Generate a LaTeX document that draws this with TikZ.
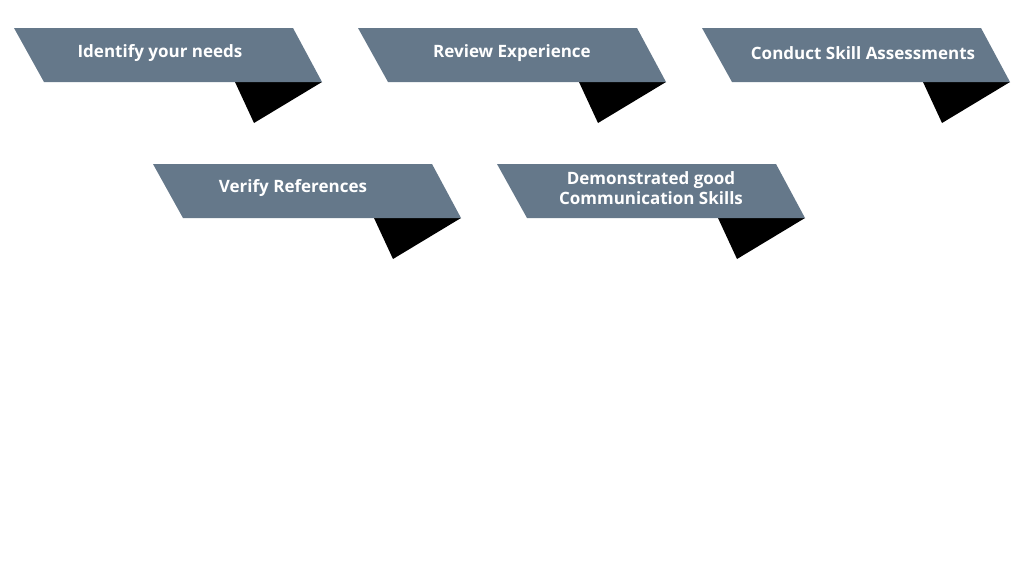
\documentclass[tikz,border=0pt]{standalone}
\usepackage{fontspec}
\setmainfont{Open Sans}
\definecolor{band}{HTML}{65788A}
\begin{document}
\begin{tikzpicture}[x=1pt,y=-1pt,
  lbl/.style={text=white,font=\fontsize{17}{20}\selectfont\bfseries,align=center,inner sep=0pt}]
\useasboundingbox[fill=white] (0,0) rectangle (1024,576);
\newcommand{\ribbon}[3]{%
  \begin{scope}[shift={(#1,#2)}]
    \fill[black] (221,54) -- (308,54) -- (240,95) -- cycle;
    \fill[band] (0,0) -- (279,0) -- (308,54) -- (30,54) -- cycle;
  \end{scope}}
\ribbon{14}{28}{}
\ribbon{358}{28}{}
\ribbon{702}{28}{}
\ribbon{153}{164}{}
\ribbon{497}{164}{}
\node[lbl] (a) at (160,53) {Identify your needs};
\node[lbl] (b) at (512,53) {Review Experience};
\node[lbl] (c) at (863,53) {Conduct Skill Assessments};
\node[lbl] (d) at (293,188) {Verify References};
\node[lbl] (e) at (651,188) {Demonstrated good\\Communication Skills};
\end{tikzpicture}
\end{document}
